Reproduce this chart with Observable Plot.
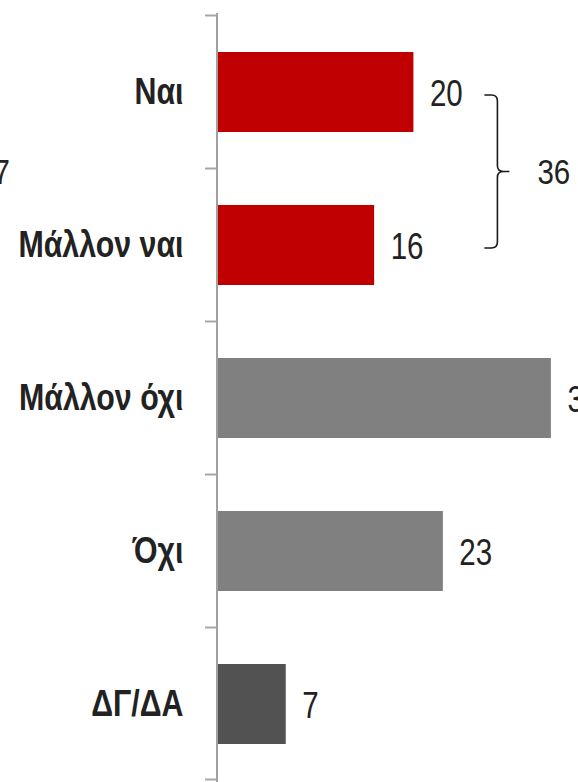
<!DOCTYPE html>
<html>
<head>
<meta charset="utf-8">
<script src="https://cdn.jsdelivr.net/npm/d3@7"></script>
<script src="https://cdn.jsdelivr.net/npm/@observablehq/plot@0.6"></script>
<style>
  html, body { margin: 0; padding: 0; background: #fff; }
  #chart svg { display: block; overflow: hidden; }
</style>
</head>
<body>
<div id="chart"></div>
<script>
const categories = ["Ναι", "Μάλλον ναι", "Μάλλον όχι", "Όχι", "ΔΓ/ΔΑ"];
const values = [20, 16, 34, 23, 7];
const groups = ["yes", "yes", "no", "no", "dk"];
const groupColors = {yes: "#C00000", no: "#808080", dk: "#525252"};

const data = categories.map((c, i) => ({cat: c, value: values[i], group: groups[i]}));

const sans = "'Liberation Sans', Arial, sans-serif";
const narrowFactor = 0.82; // Arial Narrow look: Arial compressed horizontally

const yesTotal = d3.sum(data.filter(d => d.group === "yes"), d => d.value);
const noTotal = d3.sum(data.filter(d => d.group === "no"), d => d.value);
const yesCats = data.filter(d => d.group === "yes").map(d => d.cat);
const yesMax = d3.max(data.filter(d => d.group === "yes"), d => d.value);

const svgNS = "http://www.w3.org/2000/svg";

function axisMark(index, scales, values, dims) {
  const y = scales.y, x = scales.x;
  const step = typeof y.step === "function" ? y.step() : y.step;
  const bw = typeof y.bandwidth === "function" ? y.bandwidth() : y.bandwidth;
  const g = document.createElementNS(svgNS, "g");
  const x0 = x(0);
  const line = document.createElementNS(svgNS, "line");
  line.setAttribute("x1", x0); line.setAttribute("x2", x0);
  line.setAttribute("y1", dims.marginTop); line.setAttribute("y2", dims.height - dims.marginBottom);
  line.setAttribute("stroke", "#A0A0A0"); line.setAttribute("stroke-width", 2);
  g.appendChild(line);
  const bounds = categories.map(c => y(c) + bw / 2 - step / 2);
  bounds.push(y(categories[categories.length - 1]) + bw / 2 + step / 2 - 1);
  for (const b of bounds) {
    const t = document.createElementNS(svgNS, "line");
    t.setAttribute("x1", x0 - 12); t.setAttribute("x2", x0);
    t.setAttribute("y1", b); t.setAttribute("y2", b);
    t.setAttribute("stroke", "#A6A6A6"); t.setAttribute("stroke-width", 2);
    g.appendChild(t);
  }
  return g;
}

function narrowText(str, px, py, anchor) {
  const wrap = document.createElementNS(svgNS, "g");
  wrap.setAttribute("transform", `translate(${px},${py}) scale(${narrowFactor},1)`);
  const t = document.createElementNS(svgNS, "text");
  t.setAttribute("class", "pre-narrowed");
  t.setAttribute("dy", "0.35em");
  t.setAttribute("text-anchor", anchor || "start");
  t.setAttribute("font-family", sans); t.setAttribute("font-size", 36);
  t.setAttribute("fill", "#222");
  t.textContent = str;
  wrap.appendChild(t);
  return wrap;
}

function braceMark(index, scales, values, dims) {
  const y = scales.y, x = scales.x;
  const bw = typeof y.bandwidth === "function" ? y.bandwidth() : y.bandwidth;
  const g = document.createElementNS(svgNS, "g");
  const xr = x(yesMax) + 71, xv = xr + 13, xt = xv + 12;
  const y1 = y(yesCats[0]) + bw / 2 + 3;
  const y2 = y(yesCats[yesCats.length - 1]) + bw / 2 + 3;
  const ym = (y1 + y2) / 2;
  const r = 6;
  const p = document.createElementNS(svgNS, "path");
  p.setAttribute("d",
    `M${xr},${y1} L${xv - r},${y1} Q${xv},${y1} ${xv},${y1 + r} L${xv},${ym - r} Q${xv},${ym} ${xv + r},${ym} L${xt},${ym}` +
    ` M${xv + r},${ym} Q${xv},${ym} ${xv},${ym + r} L${xv},${y2 - r} Q${xv},${y2} ${xv - r},${y2} L${xr},${y2}`);
  p.setAttribute("fill", "none"); p.setAttribute("stroke", "#1a1a1a"); p.setAttribute("stroke-width", 1.6);
  g.appendChild(p);
  g.appendChild(narrowText(String(yesTotal), xt + 28, ym, "start"));
  g.appendChild(narrowText(String(noTotal), 10, ym, "end"));
  return g;
}

const chart = Plot.plot({
  width: 578,
  height: 782,
  marginLeft: 217,
  marginRight: 0,
  marginTop: 13,
  marginBottom: 0,
  style: {background: "#fff"},
  x: {domain: [0, 36.76], axis: null},
  y: {domain: categories, axis: null, paddingInner: 0.48, paddingOuter: 0.24},
  color: {type: "identity"},
  marks: [
    Plot.barX(data, {x: "value", y: "cat", fill: d => groupColors[d.group]}),
    axisMark,
    Plot.text(data, {x: 0, y: "cat", text: "cat", dx: -34, textAnchor: "end",
      fontWeight: "bold", fontSize: 37, fontFamily: sans, fill: "#222"}),
    Plot.text(data, {x: "value", y: "cat", text: d => String(d.value), dx: 16, dy: 2, textAnchor: "start",
      fontSize: 36, fontFamily: sans, fill: "#222"}),
    braceMark
  ]
});
document.getElementById("chart").appendChild(chart);

// Narrow the glyphs of Plot's text marks to mimic Arial Narrow
d3.select(chart).selectAll("text").filter(function () { return !this.classList.contains("pre-narrowed"); }).each(function () {
  const len = this.getComputedTextLength();
  if (len > 0) {
    this.setAttribute("textLength", len * narrowFactor);
    this.setAttribute("lengthAdjust", "spacingAndGlyphs");
  }
});
</script>
</body>
</html>
